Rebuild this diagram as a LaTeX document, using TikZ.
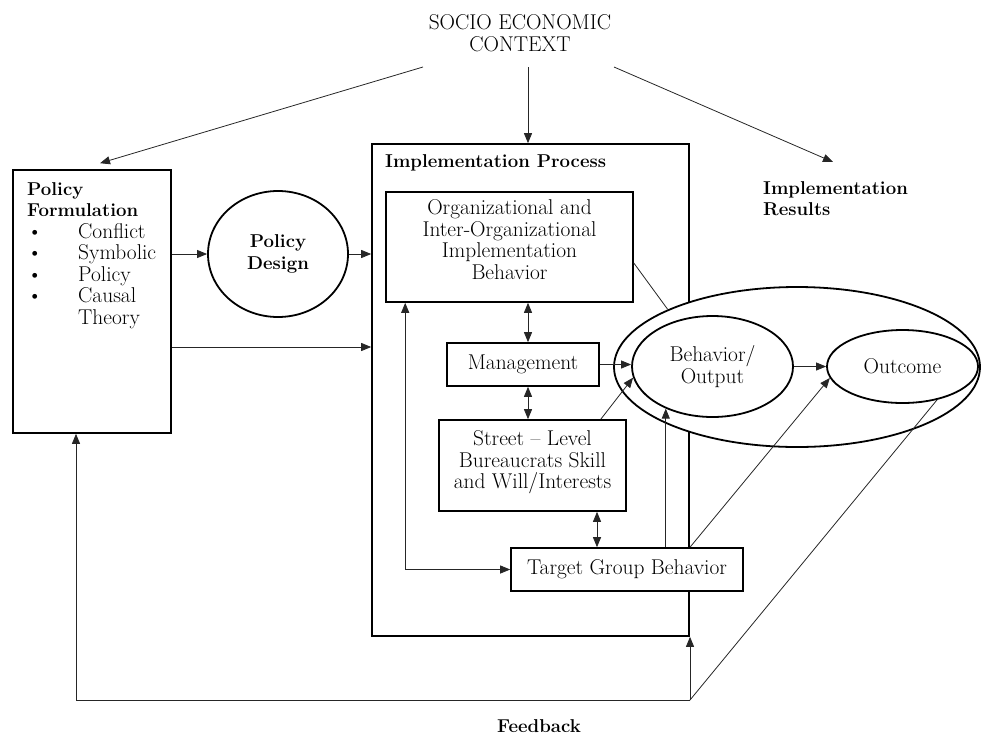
\documentclass[tikz,border=0pt]{standalone}
\usetikzlibrary{arrows.meta,shapes.geometric}
\newcommand\fsz{\fontsize{21.4}{21.5}\selectfont}
\newcommand\fsb{\fontsize{18.6}{21.5}\selectfont\bfseries}
\begin{document}
\begin{tikzpicture}[x=1pt,y=-1pt,
  every node/.style={font=\fsz},
  box/.style={draw, line width=1.6pt, rectangle, inner sep=0pt, align=center, fill=white},
  ell/.style={draw, line width=1.8pt, ellipse, inner sep=0pt, align=center, fill=white},
  tip/.tip={Triangle[length=10pt,width=8pt]},
  conn/.style={line width=0.8pt, draw=black!85, -tip},
  dconn/.style={line width=0.8pt, draw=black!85, tip-tip},
  plainline/.style={line width=0.8pt, draw=black!85}]
\useasboundingbox (0,0) rectangle (981,734);

% texts
\node[align=center] (ctx) at (520,33) {SOCIO ECONOMIC\\CONTEXT};
\node[font=\fsb, align=left, anchor=north west, inner sep=0pt] (res) at (763,181) {Implementation\\Results};
\node[font=\fsb, anchor=base, inner sep=0pt] (fbtext) at (539,732) {Feedback};

% policy formulation
\node[box, minimum width=158pt, minimum height=263pt] (pf) at (92,301.5) {};
\node[anchor=north west, inner sep=0pt] (pftext) at (27,180) {%
\begin{tabular}{@{}p{51pt}@{}l@{}}
\multicolumn{2}{@{}l@{}}{\fsb Policy}\\
\multicolumn{2}{@{}l@{}}{\fsb Formulation}\\
\textbullet & Conflict\\
\textbullet & Symbolic\\
\textbullet & Policy\\
\textbullet & Causal\\
 & Theory
\end{tabular}};

\node[ell, minimum width=140pt, minimum height=126pt, font=\fsb] (pd) at (278,254) {Policy\\Design};

% implementation process
\node[box, minimum width=317pt, minimum height=492pt] (impl) at (530.5,390) {};
\node[font=\fsb, anchor=west, inner sep=0pt] (impltitle) at (385,163) {Implementation Process};
\node[box, minimum width=247pt, minimum height=110pt, text depth=15pt] (org) at (509.5,247) {Organizational and\\Inter-Organizational\\Implementation\\Behavior};
\node[box, minimum width=152pt, minimum height=43pt] (mgmt) at (523,364.5) {Management};
\node[box, minimum width=187pt, minimum height=91pt, text depth=11pt] (street) at (532.5,465.5) {Street -- Level\\Bureaucrats Skill\\and Will/Interests};

% results ellipses
\node[ell, minimum width=366pt, minimum height=160pt] (outer) at (797,367) {};
\node[ell, minimum width=161pt, minimum height=101pt] (beh) at (712.5,366.5) {Behavior/\\Output};
\node[ell, minimum width=151pt, minimum height=73pt] (out) at (902.5,366.5) {Outcome};

\node[box, minimum width=232pt, minimum height=43pt] (tgb) at (627,569.5) {Target Group Behavior};

% context arrows
\coordinate (cl) at (423,67);
\coordinate (cm) at (528,67);
\coordinate (cr) at (614,67);
\coordinate (irtip) at (833,162);
\draw[conn] (cl) -- ([xshift=8pt,yshift=6pt]pf.north);
\draw[conn] (cm) -- (cm |- impl.north);
\draw[conn] (cr) -- (irtip);

% policy connectors
\draw[conn] (pd.west -| pf.east) -- (pd.west);
\draw[conn] (pd.east) -- (pd.east -| impl.west);
\draw[conn] ([yshift=-45.5pt]pf.east) -- ([yshift=-45.5pt]pf.east -| impl.west);

% inside implementation
\draw[dconn] (mgmt.north -| 528,0) -- (org.south -| 528,0);
\draw[dconn] (street.north -| 528,0) -- (mgmt.south -| 528,0);
\draw[dconn] (tgb.north -| 597,0) -- (street.south -| 597,0);
\draw[dconn] ([xshift=20pt]org.south west) |- (tgb.west);

% to results
\draw[plainline] ([yshift=-16pt]org.east) -- (outer.156);
\draw[conn] (mgmt.east) -- (mgmt.east -| beh.west);
\draw[conn] ([xshift=-26pt]street.north east) -- (beh.188);
\draw[conn] (beh.222 |- tgb.north) -- (beh.222);
\draw[conn] ([xshift=63pt]tgb.north) -- (out.189);
\draw[conn] (beh.east) -- (out.west);

% feedback
\coordinate (fb) at (690,700);
\draw[plainline] (out.-44) -- (fb);
\draw[conn] (fb) -- (fb |- impl.south);
\draw[conn] (fb) -| ([xshift=-16pt]pf.south);
\end{tikzpicture}
\end{document}
